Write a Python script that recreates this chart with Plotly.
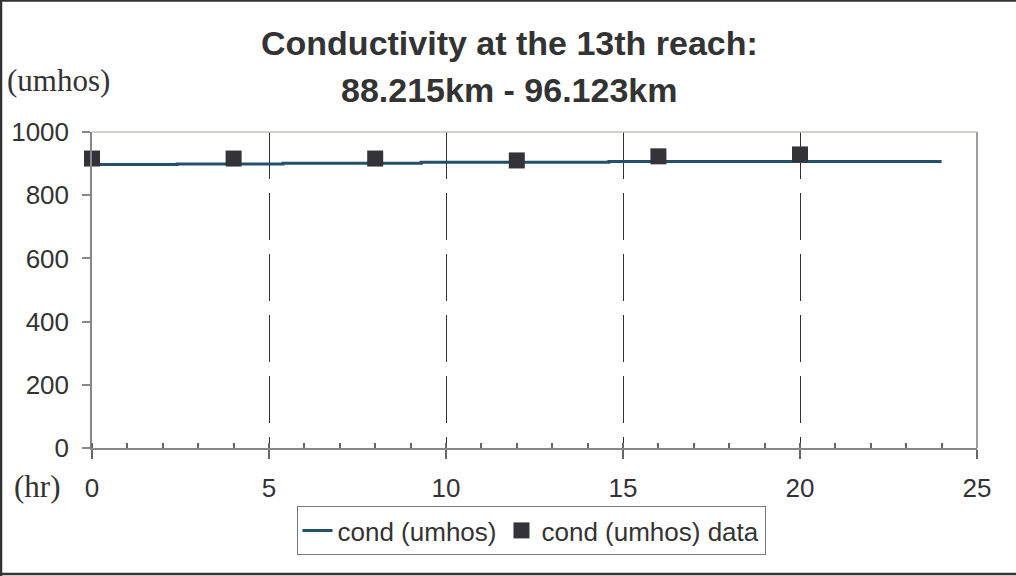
import plotly.graph_objects as go

# Model output (step line) breakpoints
line_x = [0, 2.4, 5.4, 9.3, 14.6, 24]
line_y = [897, 899, 901, 904, 907, 907]

# Observed data
data_x = [0, 4, 8, 12, 16, 20]
data_y = [916, 916, 916, 910, 923, 929]

x_ticks = [0, 5, 10, 15, 20, 25]
y_ticks = [0, 200, 400, 600, 800, 1000]

title_lines = ["Conductivity at the 13th reach:", "88.215km - 96.123km"]
y_label = "(umhos)"
x_label = "(hr)"

W, H = 1016, 576
L, R, T, B = 92, 39, 132, 128
PW, PH = W - L - R, H - T - B

def px(xp):
    return (xp - L) / PW

def py(yp):
    return (H - B - yp) / PH

TXT = "#333333"

fig = go.Figure()
fig.add_trace(go.Scatter(
    x=line_x, y=line_y, mode="lines", name="cond (umhos)",
    line=dict(color="#24506A", width=3, shape="hv"),
))
fig.add_trace(go.Scatter(
    x=data_x, y=data_y, mode="markers", name="cond (umhos) data", cliponaxis=False,
    marker=dict(symbol="square", size=16, color="#333338"),
))

fig.update_layout(
    width=W, height=H,
    margin=dict(l=L, r=R, t=T, b=B),
    paper_bgcolor="white", plot_bgcolor="white",
    font=dict(family="Arial, Liberation Sans, sans-serif", size=26, color=TXT),
    showlegend=True,
    legend=dict(
        orientation="h", x=px(531), xanchor="center", y=py(506), yanchor="top",
        bordercolor="#777777", borderwidth=1, bgcolor="white",
        font=dict(size=26, color=TXT), itemwidth=30, tracegroupgap=0,
    ),
    xaxis=dict(
        range=[0, 25], tickvals=x_ticks,
        showgrid=True, gridcolor="#333333", gridwidth=1, griddash="47px,14px",
        zeroline=False, showline=True, linecolor="#888888", linewidth=1.5,
        ticks="outside", ticklen=9, tickcolor="#666666", tickwidth=1.5,
        ticklabelstandoff=7,
        minor=dict(dtick=1, ticks="inside", ticklen=5, tickcolor="#666666", showgrid=False),
        tickfont=dict(size=26, color=TXT),
    ),
    xaxis2=dict(
        range=[0, 25], tickvals=x_ticks, overlaying="x", side="bottom", anchor="y",
        showgrid=False, zeroline=False, showline=False, showticklabels=False,
        ticks="inside", ticklen=8, tickcolor="#666666", tickwidth=1.5,
    ),
    yaxis=dict(
        range=[0, 1000], tickvals=y_ticks,
        showgrid=False, zeroline=False, showline=True, linecolor="#888888", linewidth=1.5,
        ticks="outside", ticklen=8, tickcolor="#888888", tickwidth=1.5,
        ticklabelstandoff=8,
        tickfont=dict(size=26, color=TXT),
    ),
)

shapes = [
    # plot area top and right borders
    dict(type="line", xref="paper", yref="paper", x0=0, x1=1, y0=1, y1=1,
         line=dict(color="#C4C0BC", width=1.5)),
    dict(type="line", xref="paper", yref="paper", x0=1, x1=1, y0=0, y1=1,
         line=dict(color="#A09C98", width=2)),
    # outer frame: left, top, bottom
    dict(type="line", xref="paper", yref="paper", x0=px(1), x1=px(1), y0=py(0), y1=py(H),
         line=dict(color="#333333", width=2.5)),
    dict(type="line", xref="paper", yref="paper", x0=px(0), x1=px(W), y0=py(0.8), y1=py(0.8),
         line=dict(color="#333333", width=2)),
    dict(type="line", xref="paper", yref="paper", x0=px(0), x1=px(W), y0=py(574), y1=py(574),
         line=dict(color="#333333", width=2.5)),
]
fig.update_layout(shapes=shapes)

ann = [
    dict(text="<b>%s</b>" % title_lines[0], x=px(509), y=py(43), xref="paper", yref="paper",
         xanchor="center", yanchor="middle", showarrow=False, font=dict(size=34, color=TXT)),
    dict(text="<b>%s</b>" % title_lines[1], x=px(509), y=py(90), xref="paper", yref="paper",
         xanchor="center", yanchor="middle", showarrow=False, font=dict(size=34, color=TXT)),
    dict(text=y_label, x=px(5), y=py(80), xref="paper", yref="paper",
         xanchor="left", yanchor="middle", showarrow=False,
         font=dict(family="Liberation Serif, Times New Roman, serif", size=31, color=TXT)),
    dict(text=x_label, x=px(12), y=py(486), xref="paper", yref="paper",
         xanchor="left", yanchor="middle", showarrow=False,
         font=dict(family="Liberation Serif, Times New Roman, serif", size=31, color=TXT)),
]
fig.update_layout(annotations=ann)

fig.write_html("out.html", config={"displayModeBar": False},
               post_script="document.body.style.margin='0';")
